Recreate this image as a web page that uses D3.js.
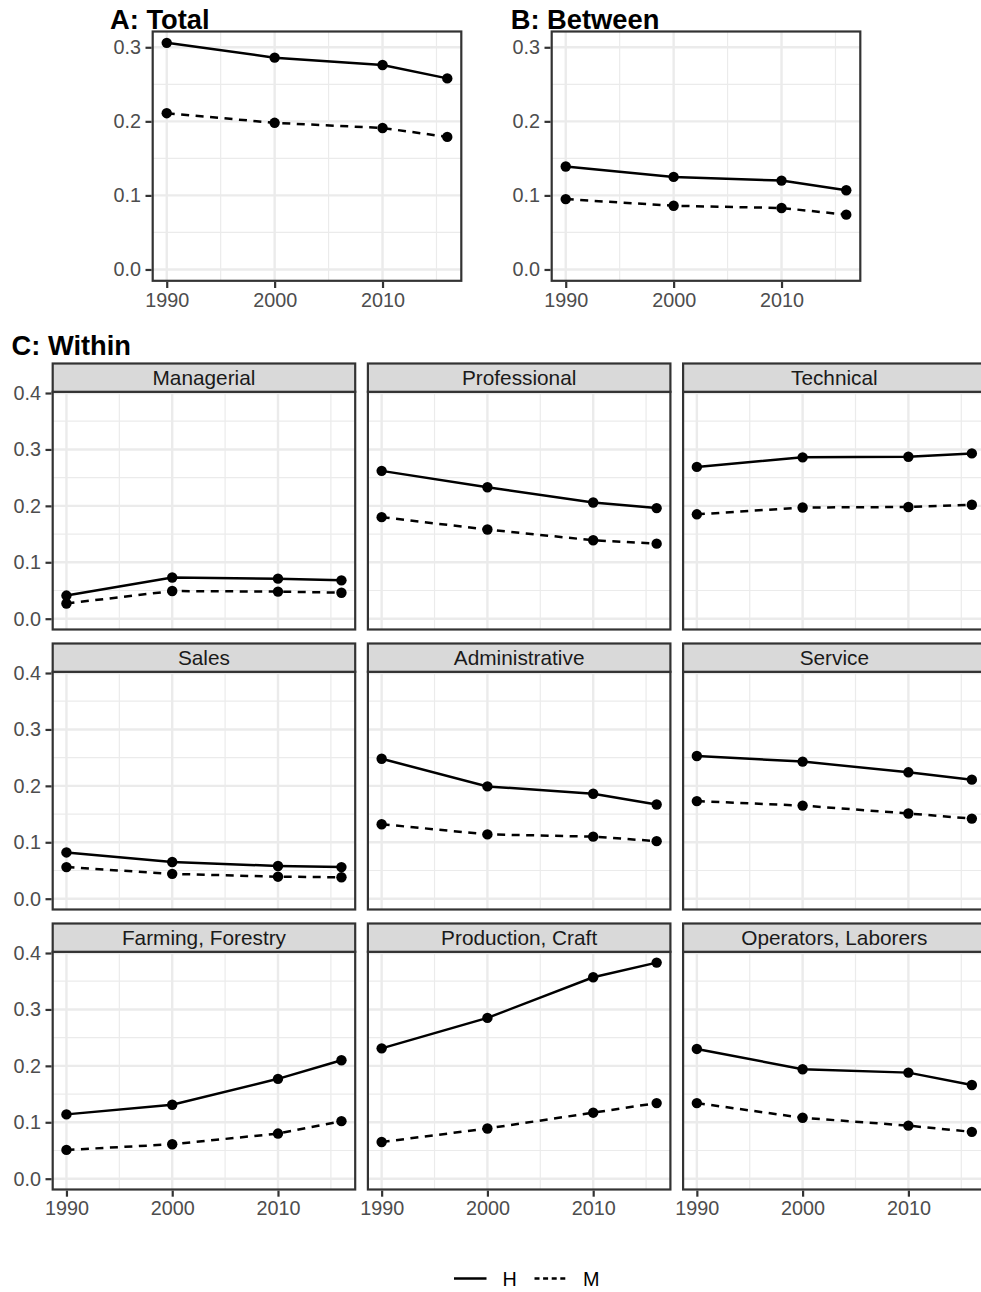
<!DOCTYPE html>
<html>
<head>
<meta charset="utf-8">
<script src="https://cdn.jsdelivr.net/npm/d3@7"></script>
<style>
  html, body { margin: 0; padding: 0; background: #ffffff; }
  svg { display: block; }
</style>
</head>
<body>
<div id="chart"></div>
<script>
// ---------------- DATA ----------------
const years = [1990, 2000, 2010, 2016];
const xTickYears = [1990, 2000, 2010];
const xMinorYears = [1995, 2005, 2015];

const totalH = [0.306, 0.286, 0.276, 0.258];
const totalM = [0.211, 0.198, 0.191, 0.179];
const betweenH = [0.139, 0.125, 0.120, 0.107];
const betweenM = [0.095, 0.086, 0.083, 0.074];

const occupations = ["Managerial", "Professional", "Technical",
                     "Sales", "Administrative", "Service",
                     "Farming, Forestry", "Production, Craft", "Operators, Laborers"];
const withinH = [
  [0.041, 0.073, 0.071, 0.068],
  [0.262, 0.233, 0.206, 0.196],
  [0.269, 0.286, 0.287, 0.293],
  [0.082, 0.065, 0.058, 0.056],
  [0.248, 0.199, 0.186, 0.167],
  [0.253, 0.243, 0.224, 0.211],
  [0.114, 0.131, 0.177, 0.210],
  [0.231, 0.285, 0.357, 0.383],
  [0.230, 0.194, 0.188, 0.166]
];
const withinM = [
  [0.027, 0.049, 0.048, 0.046],
  [0.180, 0.158, 0.139, 0.133],
  [0.185, 0.197, 0.198, 0.202],
  [0.056, 0.044, 0.039, 0.038],
  [0.132, 0.114, 0.110, 0.102],
  [0.173, 0.165, 0.151, 0.142],
  [0.051, 0.061, 0.080, 0.102],
  [0.065, 0.089, 0.117, 0.134],
  [0.134, 0.108, 0.094, 0.083]
];
const abTicks = [0.0, 0.1, 0.2, 0.3];
const abMinor = [0.05, 0.15, 0.25];
const cTicks = [0.0, 0.1, 0.2, 0.3, 0.4];
const cMinor = [0.05, 0.15, 0.25, 0.35];
const seriesNames = ["H", "M"];

// ---------------- STYLE ----------------
const FONT = "'Liberation Sans', Arial, Helvetica, sans-serif";
const AXIS_FS = 19.8;
const STRIP_FS = 20.8;
const TITLE_FS = 27.3;
const LINE_W = 2.5;
const PT_R = 5.2;
const DASH = "8,6.5";
const BORDER = "#333333";

const W = 981, H = 1292;
const svg = d3.select("#chart").append("svg").attr("width", W).attr("height", H);
svg.append("rect").attr("width", W).attr("height", H).attr("fill", "#ffffff");

function expand(lo, hi) { const d = (hi - lo) * 0.05; return [lo - d, hi + d]; }
const xDom = expand(d3.min(years), d3.max(years));
const abDom = expand(0, d3.max([...totalH, ...totalM, ...betweenH, ...betweenM]));
const cDom = expand(0, d3.max(withinH.concat(withinM).flat()));

function panel(o) {
  const x = d3.scaleLinear().domain(xDom).range([o.left, o.left + o.width]);
  const y = d3.scaleLinear().domain(o.yDomain).range([o.top + o.height, o.top]);
  const g = svg.append("g");

  g.append("rect").attr("x", o.left).attr("y", o.top)
    .attr("width", o.width).attr("height", o.height).attr("fill", "#ffffff");

  // minor grid
  g.selectAll(null).data(xMinorYears).enter().append("line")
    .attr("x1", d => x(d)).attr("x2", d => x(d))
    .attr("y1", o.top).attr("y2", o.top + o.height)
    .attr("stroke", "#EBEBEB").attr("stroke-width", 1.2);
  g.selectAll(null).data(o.yMinor).enter().append("line")
    .attr("y1", d => y(d)).attr("y2", d => y(d))
    .attr("x1", o.left).attr("x2", o.left + o.width)
    .attr("stroke", "#EBEBEB").attr("stroke-width", 1.2);
  // major grid
  g.selectAll(null).data(xTickYears).enter().append("line")
    .attr("x1", d => x(d)).attr("x2", d => x(d))
    .attr("y1", o.top).attr("y2", o.top + o.height)
    .attr("stroke", "#EBEBEB").attr("stroke-width", 2.4);
  g.selectAll(null).data(o.yTicks).enter().append("line")
    .attr("y1", d => y(d)).attr("y2", d => y(d))
    .attr("x1", o.left).attr("x2", o.left + o.width)
    .attr("stroke", "#EBEBEB").attr("stroke-width", 2.4);

  const line = d3.line().x((d, i) => x(years[i])).y(d => y(d));
  const series = [{ vals: o.h, dash: null }, { vals: o.m, dash: DASH }];
  series.forEach(s => {
    g.append("path").datum(s.vals).attr("d", line)
      .attr("fill", "none").attr("stroke", "#000000")
      .attr("stroke-width", LINE_W)
      .attr("stroke-dasharray", s.dash);
  });
  series.forEach(s => {
    g.selectAll(null).data(s.vals).enter().append("circle")
      .attr("cx", (d, i) => x(years[i])).attr("cy", d => y(d))
      .attr("r", PT_R).attr("fill", "#000000");
  });

  g.append("rect").attr("x", o.left).attr("y", o.top)
    .attr("width", o.width).attr("height", o.height)
    .attr("fill", "none").attr("stroke", BORDER).attr("stroke-width", 2.2);

  if (o.strip) {
    const sh = o.stripH;
    g.append("rect").attr("x", o.left).attr("y", o.top - sh)
      .attr("width", o.width).attr("height", sh)
      .attr("fill", "#D9D9D9").attr("stroke", BORDER).attr("stroke-width", 2.2);
    g.append("text").attr("x", o.left + o.width / 2).attr("y", o.top - sh / 2)
      .attr("dy", "0.36em").attr("text-anchor", "middle")
      .attr("font-family", FONT).attr("font-size", STRIP_FS).attr("fill", "#1A1A1A")
      .text(o.strip);
  }

  if (o.showY) {
    const ax = g.append("g").attr("transform", `translate(${o.left - 1.1},0)`)
      .call(d3.axisLeft(y).tickValues(o.yTicks).tickFormat(d3.format(".1f"))
        .tickSize(6.1).tickPadding(4.6));
    ax.select(".domain").remove();
    ax.selectAll(".tick line").attr("stroke", BORDER).attr("stroke-width", 2.2);
    ax.selectAll(".tick text").attr("font-family", FONT).attr("font-size", AXIS_FS)
      .attr("fill", "#4D4D4D");
  }
  if (o.showX) {
    const ax = g.append("g").attr("transform", `translate(0,${o.top + o.height + 1.1})`)
      .call(d3.axisBottom(x).tickValues(xTickYears).tickFormat(d3.format("d"))
        .tickSize(6.1).tickPadding(4.6));
    ax.select(".domain").remove();
    ax.selectAll(".tick line").attr("stroke", BORDER).attr("stroke-width", 2.2);
    ax.selectAll(".tick text").attr("font-family", FONT).attr("font-size", AXIS_FS)
      .attr("fill", "#4D4D4D");
  }
}

function title(txt, xPos, yPos) {
  svg.append("text").attr("x", xPos).attr("y", yPos)
    .attr("font-family", FONT).attr("font-size", TITLE_FS).attr("font-weight", "bold")
    .attr("fill", "#000000").text(txt);
}

// ---------------- PANELS A & B ----------------
const topPanel = { top: 31.5, height: 249.3, width: 308.6 };
panel({ left: 152.7, top: topPanel.top, width: topPanel.width, height: topPanel.height,
  yDomain: abDom, yTicks: abTicks, yMinor: abMinor, showY: true, showX: true,
  h: totalH, m: totalM });
title("A: Total", 110, 28.5);

panel({ left: 551.7, top: topPanel.top, width: topPanel.width, height: topPanel.height,
  yDomain: abDom, yTicks: abTicks, yMinor: abMinor, showY: true, showX: true,
  h: betweenH, m: betweenM });
title("B: Between", 510.7, 28.5);

// ---------------- PANEL C ----------------
title("C: Within", 11.5, 355);
const cLeft0 = 52.7, cPitchX = 315.2, cWidth = 302.5;
const cStripTop0 = 363.5, cPitchY = 280, cStripH = 28.3, cHeight = 237.7;
occupations.forEach((occ, k) => {
  const col = k % 3, row = Math.floor(k / 3);
  panel({ left: cLeft0 + col * cPitchX, top: cStripTop0 + row * cPitchY + cStripH,
    width: cWidth, height: cHeight, stripH: cStripH, strip: occ,
    yDomain: cDom, yTicks: cTicks, yMinor: cMinor,
    showY: col === 0, showX: row === 2,
    h: withinH[k], m: withinM[k] });
});

// ---------------- LEGEND ----------------
const legY = 1278.5;
const leg = svg.append("g");
const legItems = [
  { name: seriesNames[0], x: 454, dash: null },
  { name: seriesNames[1], x: 534.5, dash: "5,3.6" }
];
legItems.forEach(it => {
  leg.append("line").attr("x1", it.x).attr("x2", it.x + 32.5)
    .attr("y1", legY).attr("y2", legY)
    .attr("stroke", "#000000").attr("stroke-width", LINE_W)
    .attr("stroke-dasharray", it.dash);
  leg.append("text").attr("x", it.x + 48.5).attr("y", legY).attr("dy", "0.36em")
    .attr("font-family", FONT).attr("font-size", AXIS_FS).attr("fill", "#000000")
    .text(it.name);
});
</script>
</body>
</html>
